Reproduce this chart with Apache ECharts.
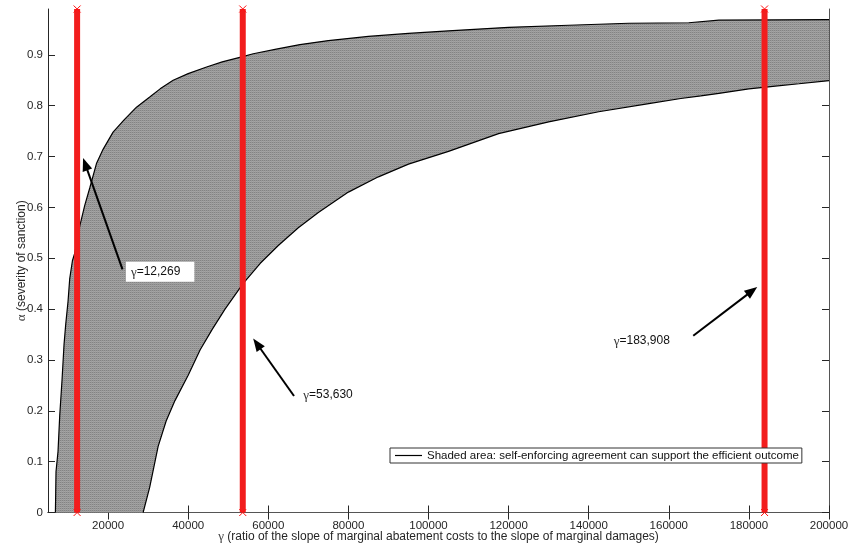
<!DOCTYPE html>
<html><head><meta charset="utf-8">
<script src="https://cdn.jsdelivr.net/npm/echarts@6/dist/echarts.min.js"></script>
<style>html,body{margin:0;padding:0;background:#fff}#c{width:848px;height:546px}</style>
</head><body><div id="c"></div>
<script>
// Upper boundary of shaded region (gamma, alpha)
const upperGamma = [6850, 6925, 7000, 7500, 7925, 8500, 9000, 9425, 10000, 10425, 11100, 11675, 12300, 12925, 14175, 15425, 17100, 18750, 21250, 24000, 27100, 30400, 33000, 36250, 40000, 44600, 48500, 52900, 56250, 62000, 67900, 75000, 85000, 95000, 105000, 120000, 135000, 150000, 165000, 172500, 200000];
const upperAlpha = [0, 0.04, 0.08, 0.12, 0.19, 0.26, 0.33, 0.37, 0.415, 0.46, 0.495, 0.51, 0.535, 0.563, 0.604, 0.638, 0.686, 0.714, 0.748, 0.772, 0.797, 0.817, 0.833, 0.85, 0.863, 0.876, 0.886, 0.895, 0.902, 0.911, 0.92, 0.928, 0.936, 0.942, 0.947, 0.954, 0.958, 0.962, 0.963, 0.968, 0.969];
// Lower boundary of shaded region
const lowerGamma = [28750, 30400, 32500, 34500, 36700, 40000, 43000, 46000, 49200, 53700, 58000, 62500, 67500, 72500, 80000, 87500, 95000, 105000, 117500, 130000, 142500, 155000, 163000, 168000, 172500, 180000, 186000, 192500, 200000];
const lowerAlpha = [0, 0.05, 0.13, 0.18, 0.22, 0.27, 0.32, 0.36, 0.40, 0.45, 0.49, 0.525, 0.56, 0.59, 0.63, 0.66, 0.685, 0.71, 0.745, 0.768, 0.788, 0.804, 0.814, 0.819, 0.824, 0.833, 0.838, 0.843, 0.849];
// Highlighted gamma values
const markGammas = [12269, 53630, 183908];
const markLabels = ['12,269', '53,630', '183,908'];
// Annotation anchors (data units)
const labelGamma = [24450, 68750, 146250];
const labelAlpha = [0.4735, 0.2308, 0.337];
const arrowTailGamma = [23600, 66425, 166100];
const arrowTailAlpha = [0.478, 0.229, 0.3474];
const arrowHeadGamma = [14300, 57175, 180800];
const arrowHeadAlpha = [0.685, 0.3318, 0.4358];
// Axes
const xTicks = [20000, 40000, 60000, 80000, 100000, 120000, 140000, 160000, 180000, 200000];
const xTickLabels = ['20000', '40000', '60000', '80000', '100000', '120000', '140000', '160000', '180000', '200000'];
const yTicks = [0, 0.1, 0.2, 0.3, 0.4, 0.5, 0.6, 0.7, 0.8, 0.9];
const yTickLabels = ['0', '0.1', '0.2', '0.3', '0.4', '0.5', '0.6', '0.7', '0.8', '0.9'];
const xName = ' (ratio of the slope of marginal abatement costs to the slope of marginal damages)';
const yName = ' (severity of sanction)';
const legendText = 'Shaded area: self-enforcing agreement can support the efficient outcome';

const FONT = 'Liberation Sans';
const SERIF = 'Liberation Serif';
const TXT = '#262626';

// fine gray texture for the shaded area
const pat = document.createElement('canvas');
pat.width = 2; pat.height = 2;
(function () {
  const c = pat.getContext('2d');
  c.fillStyle = '#838383'; c.fillRect(0, 0, 1, 1);
  c.fillStyle = '#999999'; c.fillRect(1, 0, 1, 1);
  c.fillStyle = '#a6a6a6'; c.fillRect(0, 1, 1, 1);
  c.fillStyle = '#9c9c9c'; c.fillRect(1, 1, 1, 1);
})();

const chart = echarts.init(document.getElementById('c'), null, {renderer: 'canvas'});

function fmtX(v) { const i = xTicks.indexOf(v); return i >= 0 ? xTickLabels[i] : ''; }
function fmtY(v) { let i = -1; yTicks.forEach((t, k) => { if (Math.abs(t - v) < 1e-6) i = k; }); return i >= 0 ? yTickLabels[i] : ''; }

const baseAxis = {
  axisLine: {show: true, lineStyle: {color: TXT, width: 1}},
  splitLine: {show: false},
};

const upperData = upperGamma.map((g, i) => [g, upperAlpha[i]]);
const lowerData = lowerGamma.map((g, i) => [g, lowerAlpha[i]]);

const series = [];
series.push({
  type: 'custom', name: 'region', coordinateSystem: 'cartesian2d', silent: true, z: 1,
  data: [[upperGamma[0], 0]], encode: {x: 0, y: 1},
  renderItem: function (params, api) {
    const pts = [];
    for (let i = 0; i < upperGamma.length; i++) pts.push(api.coord([upperGamma[i], upperAlpha[i]]));
    for (let i = lowerGamma.length - 1; i >= 0; i--) pts.push(api.coord([lowerGamma[i], lowerAlpha[i]]));
    return {type: 'polygon', shape: {points: pts}, style: {fill: {image: pat, repeat: 'repeat'}}};
  }
});
series.push({type: 'line', name: legendText, data: upperData, showSymbol: false, z: 3, silent: true,
  itemStyle: {color: '#000'}, lineStyle: {color: '#000', width: 1.2}});
series.push({type: 'line', name: legendText, data: lowerData, showSymbol: false, z: 3, silent: true,
  itemStyle: {color: '#000'}, lineStyle: {color: '#000', width: 1.2}});
markGammas.forEach((g) => {
  series.push({type: 'line', name: 'mark' + g, data: [[g, 0], [g, 0.99]], z: 4, silent: true,
    showSymbol: true, symbol: 'path://M0,0L10,10M10,0L0,10', symbolSize: 7,
    itemStyle: {color: 'rgba(0,0,0,0)', borderColor: '#ff1010', borderWidth: 1},
    lineStyle: {color: '#f21d1d', width: 6}});
});
series.push({
  type: 'scatter', name: 'annot', z: 6, silent: true, symbolSize: 0,
  itemStyle: {opacity: 1},
  data: labelGamma.map((g, i) => {
    const d = {value: [g, labelAlpha[i]]};
    if (i === 0) d.label = {backgroundColor: '#fff', padding: [4, 14, 3, 5]};
    return d;
  }),
  label: {
    show: true, position: 'right', distance: 0, opacity: 1,
    formatter: (p) => '{g|γ}{t|=' + markLabels[p.dataIndex] + '}',
    rich: {g: {fontFamily: SERIF, fontSize: 13, color: '#333'}, t: {fontFamily: FONT, fontSize: 12, color: '#111'}}
  },
  markLine: {
    silent: true, animation: false, symbol: ['none', 'triangle'], symbolSize: [10, 13],
    label: {show: false},
    lineStyle: {color: '#000', width: 2, type: 'solid', opacity: 1},
    emphasis: {disabled: true},
    data: arrowHeadGamma.map((g, i) => [
      {coord: [arrowTailGamma[i], arrowTailAlpha[i]]},
      {coord: [g, arrowHeadAlpha[i]]}
    ])
  }
});

chart.setOption({
  animation: false,
  backgroundColor: '#fff',
  grid: {left: 48, right: 19, top: 9, bottom: 33.5, containLabel: false, outerBoundsMode: 'none'},
  legend: {
    show: true, left: 390, top: 448, orient: 'horizontal', z: 20,
    data: [{name: legendText, icon: 'rect'}],
    itemWidth: 27, itemHeight: 1.2,
    padding: [1, 3, 1, 5], borderColor: '#333', borderWidth: 1, backgroundColor: '#fff',
    selectedMode: false,
    textStyle: {fontFamily: FONT, fontSize: 11.5, color: '#111', lineHeight: 13}
  },
  xAxis: [
    Object.assign({}, baseAxis, {
      type: 'value', min: 5000, max: 200000, position: 'bottom',
      axisTick: {show: true, inside: true, length: 7, lineStyle: {color: TXT}, customValues: xTicks},
      axisLabel: {show: true, customValues: xTicks, formatter: fmtX, fontFamily: FONT, fontSize: 11.5, color: TXT, margin: 7},
      name: '{g|γ}{t|' + xName + '}', nameLocation: 'middle', nameGap: 18, nameMoveOverlap: false,
      nameTextStyle: {verticalAlign: 'top', rich: {g: {fontFamily: SERIF, fontSize: 13, color: '#444'}, t: {fontFamily: FONT, fontSize: 12, color: TXT}}}
    }),
    Object.assign({}, baseAxis, {
      type: 'value', min: 5000, max: 200000, position: 'top',
      axisLine: {show: true, lineStyle: {color: '#555', width: 1}},
      axisTick: {show: true, inside: true, length: 7, lineStyle: {color: TXT}, customValues: xTicks},
      axisLabel: {show: false}
    })
  ],
  yAxis: [
    Object.assign({}, baseAxis, {
      type: 'value', min: 0, max: 0.99, position: 'left',
      axisTick: {show: true, inside: true, length: 7, lineStyle: {color: TXT}, customValues: yTicks},
      axisLabel: {show: true, customValues: yTicks, formatter: fmtY, fontFamily: FONT, fontSize: 11.5, color: TXT, margin: 5},
      name: '{g|α}{t|' + yName + '}', nameLocation: 'middle', nameGap: 20, nameRotate: 90, nameMoveOverlap: false,
      nameTextStyle: {rich: {g: {fontFamily: SERIF, fontSize: 13, color: '#444'}, t: {fontFamily: FONT, fontSize: 12, color: TXT}}}
    }),
    Object.assign({}, baseAxis, {
      type: 'value', min: 0, max: 0.99, position: 'right',
      axisLine: {show: true, lineStyle: {color: '#555', width: 1}},
      axisTick: {show: true, inside: true, length: 7, lineStyle: {color: TXT}, customValues: yTicks},
      axisLabel: {show: false}
    })
  ],
  series: series
});
</script></body></html>
